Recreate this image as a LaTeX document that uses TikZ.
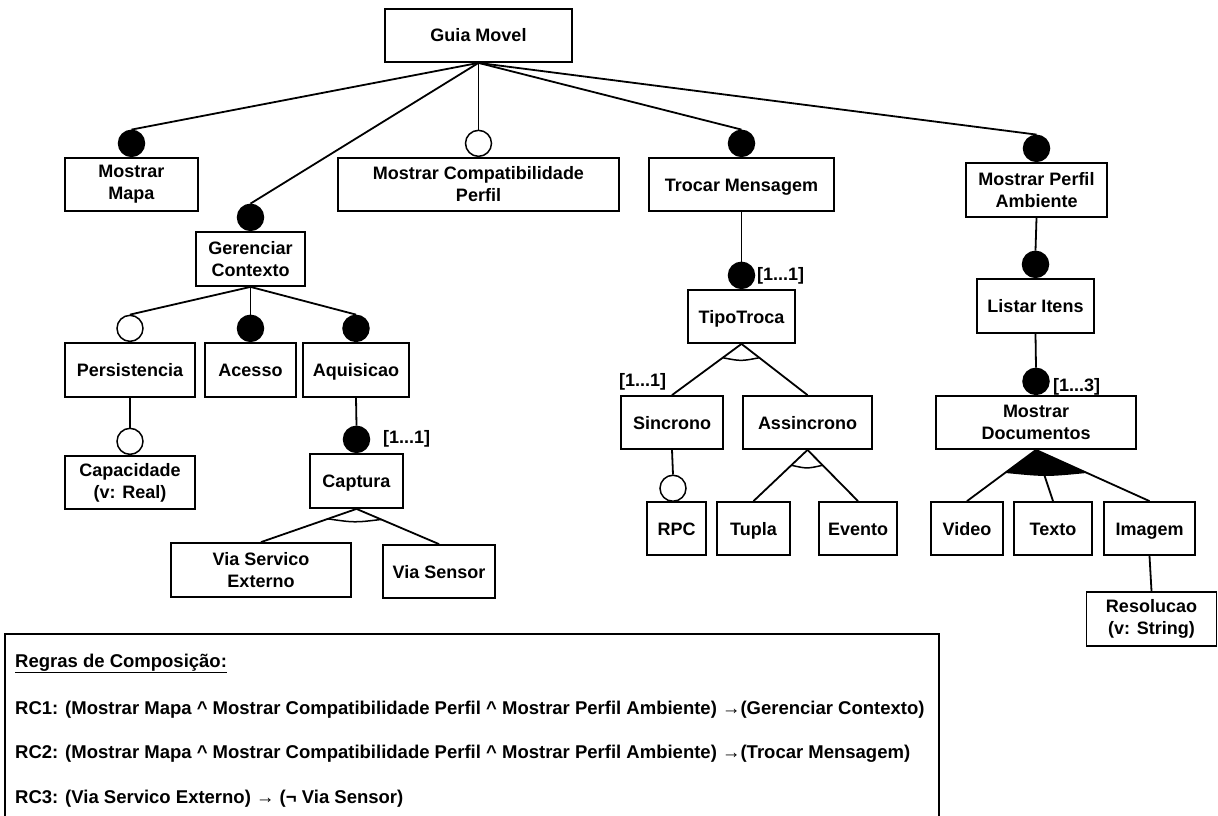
\documentclass[tikz,border=0pt]{standalone}
\usepackage{fontspec}
\setmainfont{Liberation Sans}
\usetikzlibrary{calc}
\begin{document}
\begin{tikzpicture}[x=1pt,y=-1pt,
  feat/.style={draw, line width=1.8pt, inner sep=0pt, align=center,
    font=\bfseries\fontsize{18}{22}\selectfont, minimum height=53pt},
  oneline/.style={text height=13pt, text depth=0pt},
  mand/.style={circle, draw, fill=black, line width=1.5pt, minimum size=26pt, inner sep=0pt, anchor=south},
  opt/.style={circle, draw, fill=white, line width=1.5pt, minimum size=26pt, inner sep=0pt, anchor=south},
  edge/.style={line width=1.8pt},
  grouparc/.style={line width=1.5pt},
  card/.style={font=\bfseries\fontsize{18}{22}\selectfont, inner sep=0pt, anchor=west},
  rule/.style={anchor=base west, font=\bfseries\fontsize{18.5}{22}\selectfont, inner sep=0pt}]

\useasboundingbox (0,0) rectangle (1218,816);

% ---- features ----
\node[feat, oneline, minimum width=187pt] (gm)  at (478.5,35.5) {Guia Movel};
\node[feat, minimum width=133pt] (mm)  at (131.5,184.5) {Mostrar\\Mapa};
\node[feat, minimum width=281pt] (mcp) at (478.5,184.5) {Mostrar Compatibilidade\\Perfil};
\node[feat, oneline, minimum width=185pt] (tm)  at (741.5,184.5) {Trocar Mensagem};
\node[feat, minimum width=141pt, minimum height=54pt] (mpa) at (1036.5,190) {Mostrar Perfil\\Ambiente};
\node[feat, minimum width=109pt, minimum height=54pt] (gc)  at (250.5,259) {Gerenciar\\Contexto};

\node[feat, oneline, minimum width=130pt, minimum height=54pt] (per) at (130,370) {Persistencia};
\node[feat, oneline, minimum width=91pt,  minimum height=54pt] (ace) at (250.5,370) {Acesso};
\node[feat, oneline, minimum width=106pt, minimum height=54pt] (aqu) at (356,370) {Aquisicao};
\node[feat, minimum width=130pt] (cap) at (130,482.5) {Capacidade\\(v: Real)};
\node[feat, oneline, minimum width=93pt, minimum height=54pt] (ctp) at (356.5,481) {Captura};
\node[feat, minimum width=180pt, minimum height=54pt] (vse) at (261,570) {Via Servico\\Externo};
\node[feat, oneline, minimum width=112pt] (vsn) at (439,571.5) {Via Sensor};

\node[feat, oneline, minimum width=107pt] (tt)  at (741.5,316.5) {TipoTroca};
\node[feat, oneline, minimum width=102pt] (sin) at (672,422.5) {Sincrono};
\node[feat, oneline, minimum width=129pt] (asn) at (807.5,422.5) {Assincrono};
\node[feat, oneline, minimum width=59pt]  (rpc) at (676.5,528.5) {RPC};
\node[feat, oneline, minimum width=73pt]  (tup) at (753.5,528.5) {Tupla};
\node[feat, oneline, minimum width=78pt]  (evt) at (858,528.5) {Evento};

\node[feat, oneline, minimum width=117pt, minimum height=54pt] (li) at (1035.5,306) {Listar Itens};
\node[feat, minimum width=200pt] (md)  at (1036,422.5) {Mostrar\\Documentos};
\node[feat, oneline, minimum width=72pt]  (vid) at (967,528.5) {Video};
\node[feat, oneline, minimum width=78pt]  (txt) at (1053,528.5) {Texto};
\node[feat, oneline, minimum width=91pt]  (img) at (1149.5,528.5) {Imagem};
\node[feat, minimum width=130pt, minimum height=54pt] (res) at (1151.5,619) {Resolucao\\(v: String)};

% ---- mandatory / optional markers ----
\node[mand] (mmc)  at (mm.north)  {};
\node[opt]  (mcpc) at (mcp.north) {};
\node[mand] (tmc)  at (tm.north)  {};
\node[mand] (mpac) at (mpa.north) {};
\node[mand] (gcc)  at (gc.north)  {};
\node[opt]  (perc) at (per.north) {};
\node[mand] (acec) at (ace.north) {};
\node[mand] (aquc) at (aqu.north) {};
\node[opt]  (capc) at (cap.north) {};
\node[mand] (ctpc) at (ctp.north) {};
\node[mand] (ttc)  at (tt.north)  {};
\node[opt]  (rpcc) at (673,502)   {};
\node[mand] (lic)  at (li.north)  {};
\node[mand] (mdc)  at (md.north)  {};

% ---- cardinalities ----
\node[card] (k1) at (757,276) {[1...1]};
\node[card] (k2) at (383,439) {[1...1]};
\node[card] (k3) at (619,382) {[1...1]};
\node[card] (k4) at (1053,387) {[1...3]};

% ---- connectors ----
\foreach \c in {mmc,mcpc,tmc,mpac,gcc}
  \draw[edge] (gm.south) -- (\c.north);
\foreach \c in {perc,acec,aquc}
  \draw[edge] (gc.south) -- (\c.north);
\draw[edge] (per.south) -- (capc.north);
\draw[edge] (aqu.south) -- (ctpc.north);
\draw[edge] (tm.south)  -- (ttc.north);
\draw[edge] (mpa.south) -- (lic.north);
\draw[edge] (li.south)  -- (mdc.north);
\draw[edge] (sin.south) -- (rpcc.north);
\draw[edge] (img.south) -- (res.north);

% alternative groups
\draw[edge] (ctp.south) -- (vse.north);
\draw[edge] (ctp.south) -- (vsn.north);
\coordinate (a1l) at ($(ctp.south)!0.3!(vse.north)$);
\coordinate (a1r) at ($(ctp.south)!0.3!(vsn.north)$);
\draw[grouparc] (a1l) .. controls ($(a1l)!0.5!(a1r)+(0,3.5)$) .. (a1r);

\draw[edge] (tt.south) -- (sin.north);
\draw[edge] (tt.south) -- (asn.north);
\coordinate (a2l) at ($(tt.south)!0.27!(sin.north)$);
\coordinate (a2r) at ($(tt.south)!0.27!(asn.north)$);
\draw[grouparc] (a2l) .. controls ($(a2l)!0.5!(a2r)+(0,3.5)$) .. (a2r);

\draw[edge] (asn.south) -- (tup.north);
\draw[edge] (asn.south) -- (evt.north);
\coordinate (a3l) at ($(asn.south)!0.3!(tup.north)$);
\coordinate (a3r) at ($(asn.south)!0.3!(evt.north)$);
\draw[grouparc] (a3l) .. controls ($(a3l)!0.5!(a3r)+(0,3.5)$) .. (a3r);

% or group
\draw[edge] (md.south) -- (vid.north);
\draw[edge] (md.south) -- (txt.north);
\draw[edge] (md.south) -- (img.north);
\coordinate (o1l) at ($(md.south)!0.45!(vid.north)$);
\coordinate (o1r) at ($(md.south)!0.45!(img.north)$);
\fill (md.south) -- (o1l) .. controls ($(o1l)!0.5!(o1r)+(0,4)$) .. (o1r) -- cycle;

% ---- composition rules ----
\draw[line width=1.8pt] (5,820) -- (5,634) -- (939,634) -- (939,820);
\node[rule] (r0) at (15,667) {\underline{Regras de Composição:}};
\node[rule] (r1) at (15,714) {RC1: (Mostrar Mapa \textasciicircum{} Mostrar Compatibilidade Perfil \textasciicircum{} Mostrar Perfil Ambiente) →(Gerenciar Contexto)};
\node[rule] (r2) at (15,758) {RC2: (Mostrar Mapa \textasciicircum{} Mostrar Compatibilidade Perfil \textasciicircum{} Mostrar Perfil Ambiente) →(Trocar Mensagem)};
\node[rule] (r3) at (15,803) {RC3: (Via Servico Externo) → (¬ Via Sensor)};
\end{tikzpicture}
\end{document}
